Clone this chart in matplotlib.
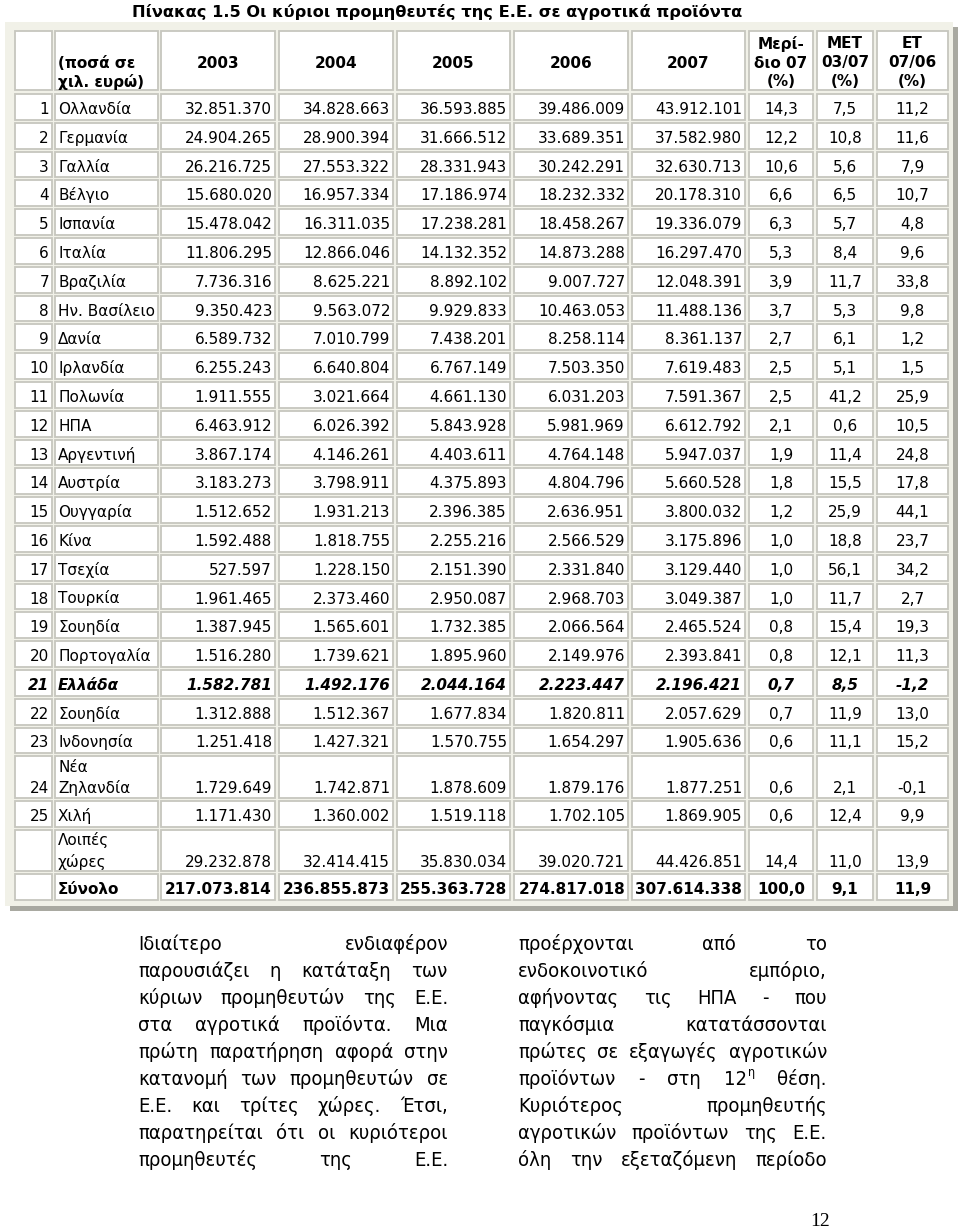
import matplotlib
matplotlib.use("Agg")
import matplotlib.pyplot as plt
from matplotlib.patches import Rectangle

# ---- data ----
ranks = [str(i) for i in range(1, 26)] + ["", ""]
countries = ["Ολλανδία", "Γερμανία", "Γαλλία", "Βέλγιο", "Ισπανία", "Ιταλία",
             "Βραζιλία", "Ην. Βασίλειο", "Δανία", "Ιρλανδία", "Πολωνία", "ΗΠΑ",
             "Αργεντινή", "Αυστρία", "Ουγγαρία", "Κίνα", "Τσεχία", "Τουρκία",
             "Σουηδία", "Πορτογαλία", "Ελλάδα", "Σουηδία", "Ινδονησία",
             "Νέα\nΖηλανδία", "Χιλή", "Λοιπές\nχώρες", "Σύνολο"]
v2003 = ["32.851.370", "24.904.265", "26.216.725", "15.680.020", "15.478.042",
         "11.806.295", "7.736.316", "9.350.423", "6.589.732", "6.255.243",
         "1.911.555", "6.463.912", "3.867.174", "3.183.273", "1.512.652",
         "1.592.488", "527.597", "1.961.465", "1.387.945", "1.516.280",
         "1.582.781", "1.312.888", "1.251.418", "1.729.649", "1.171.430",
         "29.232.878", "217.073.814"]
v2004 = ["34.828.663", "28.900.394", "27.553.322", "16.957.334", "16.311.035",
         "12.866.046", "8.625.221", "9.563.072", "7.010.799", "6.640.804",
         "3.021.664", "6.026.392", "4.146.261", "3.798.911", "1.931.213",
         "1.818.755", "1.228.150", "2.373.460", "1.565.601", "1.739.621",
         "1.492.176", "1.512.367", "1.427.321", "1.742.871", "1.360.002",
         "32.414.415", "236.855.873"]
v2005 = ["36.593.885", "31.666.512", "28.331.943", "17.186.974", "17.238.281",
         "14.132.352", "8.892.102", "9.929.833", "7.438.201", "6.767.149",
         "4.661.130", "5.843.928", "4.403.611", "4.375.893", "2.396.385",
         "2.255.216", "2.151.390", "2.950.087", "1.732.385", "1.895.960",
         "2.044.164", "1.677.834", "1.570.755", "1.878.609", "1.519.118",
         "35.830.034", "255.363.728"]
v2006 = ["39.486.009", "33.689.351", "30.242.291", "18.232.332", "18.458.267",
         "14.873.288", "9.007.727", "10.463.053", "8.258.114", "7.503.350",
         "6.031.203", "5.981.969", "4.764.148", "4.804.796", "2.636.951",
         "2.566.529", "2.331.840", "2.968.703", "2.066.564", "2.149.976",
         "2.223.447", "1.820.811", "1.654.297", "1.879.176", "1.702.105",
         "39.020.721", "274.817.018"]
v2007 = ["43.912.101", "37.582.980", "32.630.713", "20.178.310", "19.336.079",
         "16.297.470", "12.048.391", "11.488.136", "8.361.137", "7.619.483",
         "7.591.367", "6.612.792", "5.947.037", "5.660.528", "3.800.032",
         "3.175.896", "3.129.440", "3.049.387", "2.465.524", "2.393.841",
         "2.196.421", "2.057.629", "1.905.636", "1.877.251", "1.869.905",
         "44.426.851", "307.614.338"]
share07 = ["14,3", "12,2", "10,6", "6,6", "6,3", "5,3", "3,9", "3,7", "2,7", "2,5",
           "2,5", "2,1", "1,9", "1,8", "1,2", "1,0", "1,0", "1,0", "0,8", "0,8",
           "0,7", "0,7", "0,6", "0,6", "0,6", "14,4", "100,0"]
met = ["7,5", "10,8", "5,6", "6,5", "5,7", "8,4", "11,7", "5,3", "6,1", "5,1",
       "41,2", "0,6", "11,4", "15,5", "25,9", "18,8", "56,1", "11,7", "15,4", "12,1",
       "8,5", "11,9", "11,1", "2,1", "12,4", "11,0", "9,1"]
et = ["11,2", "11,6", "7,9", "10,7", "4,8", "9,6", "33,8", "9,8", "1,2", "1,5",
      "25,9", "10,5", "24,8", "17,8", "44,1", "23,7", "34,2", "2,7", "19,3", "11,3",
      "-1,2", "13,0", "15,2", "-0,1", "9,9", "13,9", "11,9"]

header = ["", "(ποσά σε\nχιλ. ευρώ)", "2003", "2004", "2005", "2006", "2007",
          "Μερί-\nδιο 07\n(%)", "MET\n03/07\n(%)", "ET\n07/06\n(%)"]

title = "Πίνακας 1.5 Οι κύριοι προμηθευτές της Ε.Ε. σε αγροτικά προϊόντα"

left_lines = ["Ιδιαίτερο ενδιαφέρον",
              "παρουσιάζει η κατάταξη των",
              "κύριων προμηθευτών της Ε.Ε.",
              "στα αγροτικά προϊόντα. Μια",
              "πρώτη παρατήρηση αφορά στην",
              "κατανομή των προμηθευτών σε",
              "Ε.Ε. και τρίτες χώρες. Έτσι,",
              "παρατηρείται ότι οι κυριότεροι",
              "προμηθευτές της Ε.Ε."]
right_lines = ["προέρχονται από το",
               "ενδοκοινοτικό εμπόριο,",
               "αφήνοντας τις ΗΠΑ - που",
               "παγκόσμια κατατάσσονται",
               "πρώτες σε εξαγωγές αγροτικών",
               "προϊόντων - στη 12^η θέση.",
               "Κυριότερος προμηθευτής",
               "αγροτικών προϊόντων της Ε.Ε.",
               "όλη την εξεταζόμενη περίοδο"]

# ---- layout (pixels) ----
fig = plt.figure(figsize=(9.6, 12.3), dpi=100)
ax = fig.add_axes([0, 0, 1, 1])
ax.set_xlim(0, 960)
ax.set_ylim(1230, 0)
ax.axis("off")

col_edges = [(15, 52), (55, 158), (161, 275), (279, 393), (397, 510),
             (514, 628), (632, 745), (749, 813), (817, 873), (877, 948)]

FS = 11
border = "#c6c6be"

# panel and shadow
ax.add_patch(Rectangle((10, 27), 948, 884, facecolor="#a9a9a1", edgecolor="none"))
ax.add_patch(Rectangle((5, 22), 948, 884, facecolor="#f1f1e8", edgecolor="none"))

ax.text(437, 12, title, ha="center", va="center", fontsize=11.7, fontweight="bold")


def cell(x0, x1, y0, y1):
    ax.add_patch(Rectangle((x0, y0), x1 - x0, y1 - y0, facecolor="white",
                           edgecolor=border, linewidth=1.3))


# header row
h0, h1 = 31, 90
for j, (x0, x1) in enumerate(col_edges):
    cell(x0, x1, h0, h1)
    txt = header[j]
    if not txt:
        continue
    lines = txt.split("\n")
    n = len(lines)
    for k, ln in enumerate(lines):
        if j == 1:
            y = 62 + 19 * k
            ax.text(x0 + 3, y + 5.5, ln, ha="left", va="baseline", fontsize=FS,
                    fontweight="bold")
        else:
            y = 62 + 19 * (k - (n - 1) / 2)
            ax.text((x0 + x1) / 2, y + 5.5, ln, ha="center", va="baseline",
                    fontsize=FS, fontweight="bold")

# body rows (text placed on a common baseline)
top = 94.0
gap = 3.0
for i in range(len(countries)):
    two = "\n" in countries[i]
    hgt = 41.5 if two else 25.8
    y0, y1 = top, top + hgt
    if i == 20:
        style = dict(fontweight="bold", fontstyle="italic")
    elif i == len(countries) - 1:
        style = dict(fontweight="bold")
    else:
        style = {}
    ymid = y1 - 10 if two else (y0 + y1) / 2 + 1.5
    yb = ymid + 5.5
    vals = [ranks[i], countries[i], v2003[i], v2004[i], v2005[i], v2006[i],
            v2007[i], share07[i], met[i], et[i]]
    for j, (x0, x1) in enumerate(col_edges):
        cell(x0, x1, y0, y1)
        v = vals[j]
        if j == 1:
            lines = v.split("\n")
            for k, ln in enumerate(lines[::-1]):
                ax.text(x0 + 3, yb - 21.5 * k, ln, ha="left", va="baseline",
                        fontsize=FS, **style)
        elif j <= 6:
            ax.text(x1 - 3, yb, v, ha="right", va="baseline", fontsize=FS, **style)
        else:
            ax.text((x0 + x1) / 2, yb, v, ha="center", va="baseline", fontsize=FS,
                    **style)
    top = y1 + gap

# ---- justified paragraph text (condensed face) ----
BODY = dict(family="DejaVu Sans", fontstretch="condensed")
body_fs = 14.5

fig.canvas.draw()
renderer = fig.canvas.get_renderer()


def width_of(t):
    return t.get_window_extent(renderer).width


def justify(lines, xl, xr, y_first, pitch):
    for li, line in enumerate(lines):
        yb = y_first + li * pitch + 6   # baseline
        items = []
        total = 0.0
        for w in line.split(" "):
            if "^" in w:
                base, sup = w.split("^")
                t1 = ax.text(0, yb, base, ha="left", va="baseline", fontsize=body_fs, **BODY)
                t2 = ax.text(0, yb - 9, sup, ha="left", va="baseline",
                             fontsize=body_fs * 0.62, **BODY)
                w1, w2 = width_of(t1), width_of(t2)
                items.append(([(t1, 0), (t2, w1 + 1)], w1 + w2 + 1))
                total += w1 + w2 + 1
            else:
                t = ax.text(0, yb, w, ha="left", va="baseline", fontsize=body_fs, **BODY)
                wd = width_of(t)
                items.append(([(t, 0)], wd))
                total += wd
        space = max((xr - xl - total) / max(len(items) - 1, 1), 4.0)
        x = xl
        for parts, wd in items:
            for t, off in parts:
                t.set_x(x + off)
            x += wd + space


justify(left_lines, 138, 448, 944, 27.0)
justify(right_lines, 518, 827, 944, 27.0)

ax.text(820, 1221, "12", ha="center", va="center", fontsize=14,
        family=["Liberation Serif", "DejaVu Serif"])

fig.savefig("out.png", dpi=100)
